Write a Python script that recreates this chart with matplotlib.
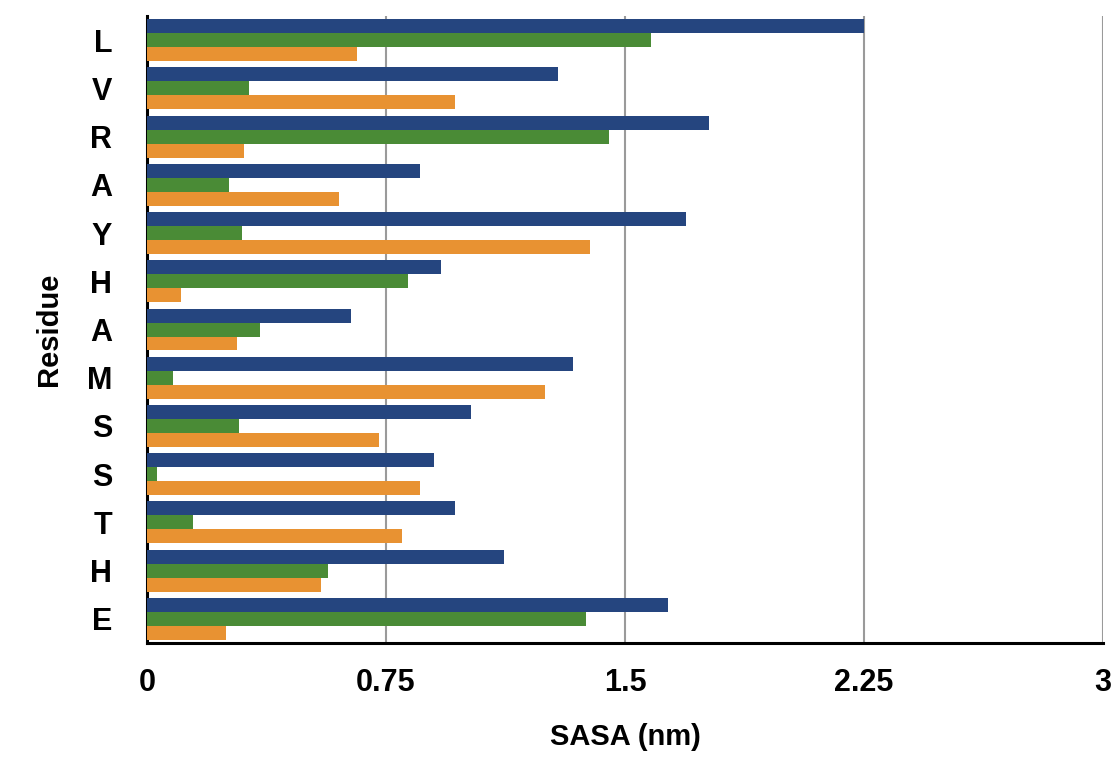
import numpy as np
import matplotlib
matplotlib.use("Agg")
import matplotlib.pyplot as plt

residues = ["L", "V", "R", "A", "Y", "H", "A", "M", "S", "S", "T", "H", "E"]
blue_vals = [2.25, 1.29, 1.765, 0.858, 1.69, 0.924, 0.641, 1.338, 1.018, 0.899, 0.965, 1.12, 1.634]
green_vals = [1.58, 0.32, 1.45, 0.258, 0.298, 0.82, 0.355, 0.082, 0.289, 0.031, 0.145, 0.569, 1.379]
orange_vals = [0.66, 0.965, 0.305, 0.603, 1.389, 0.107, 0.283, 1.25, 0.729, 0.858, 0.80, 0.547, 0.248]
xticks = [0, 0.75, 1.5, 2.25, 3]
xtick_labels = ["0", "0.75", "1.5", "2.25", "3"]

plt.rcParams["font.family"] = ["Liberation Sans", "DejaVu Sans"]

fig = plt.figure(figsize=(11.19, 7.61), dpi=100)
ax = fig.add_axes([0.1314, 0.155, 0.8543, 0.824])

y = np.arange(len(residues))
h = 0.29
ax.barh(y - h, blue_vals, height=h, color="#25457F", zorder=3)
ax.barh(y, green_vals, height=h, color="#4A8B36", zorder=3)
ax.barh(y + h, orange_vals, height=h, color="#E89232", zorder=3)

ax.set_ylim(len(residues) - 0.5, -0.5)
ax.set_xlim(0, 3)
ax.set_yticks(y)
ax.set_yticklabels(residues, fontsize=22, fontweight="bold")
ax.set_xticks(xticks)
ax.set_xticklabels(xtick_labels, fontsize=22, fontweight="bold")
ax.tick_params(axis="y", length=0, pad=25)
ax.tick_params(axis="x", length=0, pad=18)

ax.grid(axis="x", color="#9a9a9a", linewidth=1.5, zorder=0)
for s in ["top", "right"]:
    ax.spines[s].set_visible(False)
ax.spines["left"].set_linewidth(2.2)
ax.spines["bottom"].set_linewidth(2.2)

ax.set_xlabel("SASA (nm)", fontsize=21, fontweight="bold", labelpad=18)
ax.set_ylabel("Residue", fontsize=21, fontweight="bold", labelpad=17)

fig.savefig("out.png", dpi=100)
